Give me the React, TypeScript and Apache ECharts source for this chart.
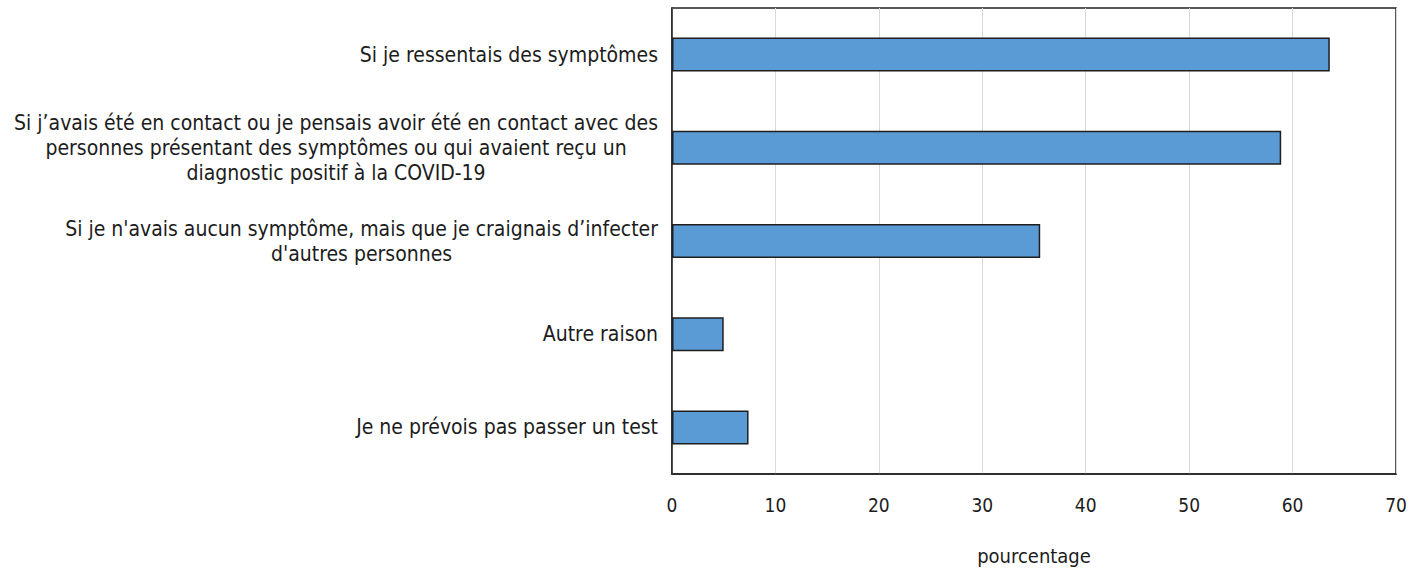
import React, { useEffect, useRef } from "react";
import * as echarts from "echarts";

const categories: string[] = [
  "Si je ressentais des symptômes",
  "Si j’avais été en contact ou je pensais avoir été en contact avec des\npersonnes présentant des symptômes ou qui avaient reçu un\ndiagnostic positif à la COVID-19",
  "Si je n'avais aucun symptôme, mais que je craignais d’infecter\nd'autres personnes",
  "Autre raison",
  "Je ne prévois pas passer un test",
];

const values: number[] = [63.6, 58.9, 35.6, 5.0, 7.4];

const xTicks = { min: 0, max: 70, interval: 10 };
const xAxisName = "pourcentage";

const FONT = '"DejaVu Sans Condensed", "DejaVu Sans", sans-serif';
const TEXT_COLOR = "#1c1c1c";

export default function App() {
  const ref = useRef<HTMLDivElement>(null);

  useEffect(() => {
    if (!ref.current) return;
    const chart = echarts.init(ref.current, null, { renderer: "svg" });
    chart.setOption({
      animation: false,
      grid: {
        left: 672,
        right: 28,
        top: 8,
        bottom: 94,
        show: true,
        borderColor: "#222222",
        borderWidth: 1.5,
        backgroundColor: "transparent",
      },
      xAxis: {
        type: "value",
        min: xTicks.min,
        max: xTicks.max,
        interval: xTicks.interval,
        name: xAxisName,
        nameLocation: "middle",
        nameGap: 72,
        nameTextStyle: { fontFamily: FONT, fontSize: 20, color: TEXT_COLOR },
        axisLine: { show: true, lineStyle: { color: "#222222", width: 1.5 } },
        axisTick: { show: false },
        axisLabel: {
          margin: 21,
          fontFamily: FONT,
          fontSize: 19,
          color: TEXT_COLOR,
        },
        splitLine: { show: true, lineStyle: { color: "#d9d9d9", width: 1 } },
      },
      yAxis: {
        type: "category",
        data: categories,
        inverse: true,
        axisLine: { show: true, lineStyle: { color: "#222222", width: 1.5 } },
        axisTick: { show: false },
        splitLine: { show: false },
        axisLabel: {
          margin: 14,
          interval: 0,
          formatter: (v: string) =>
            v
              .split("\n")
              .map((l) => `{c|${l}}`)
              .join("\n"),
          rich: {
            c: {
              align: "center",
              fontFamily: FONT,
              fontSize: 21,
              lineHeight: 25,
              color: TEXT_COLOR,
            },
          },
        },
      },
      series: [
        {
          type: "bar",
          data: values,
          barWidth: 34,
          itemStyle: {
            color: "#5b9bd5",
            borderColor: "#1f1f1f",
            borderWidth: 1.5,
          },
        },
      ],
    });
    return () => chart.dispose();
  }, []);

  return (
    <div
      ref={ref}
      style={{ position: "absolute", left: 0, top: 0, width: 1424, height: 571 }}
    />
  );
}
